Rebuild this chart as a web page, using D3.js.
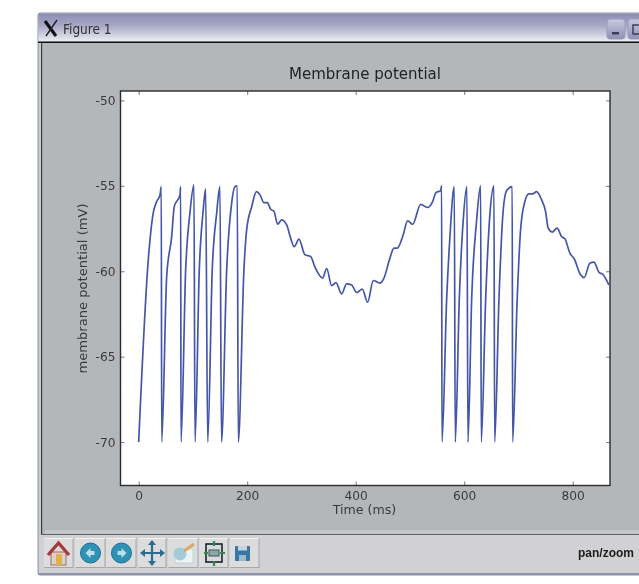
<!DOCTYPE html>
<html>
<head>
<meta charset="utf-8">
<script src="https://cdn.jsdelivr.net/npm/d3@7"></script>
<style>
    html, body { margin: 0; padding: 0; background: #fff; overflow: hidden; }
    svg { display: block; filter: blur(0.6px); font-family: "DejaVu Sans", sans-serif; }
</style>
</head>
<body>
<svg id="fig" width="639" height="584"></svg>
<script>
const chartTitle = 'Membrane potential';
const xAxisLabel = 'Time (ms)';
const yAxisLabel = 'membrane potential (mV)';
const windowTitle = 'Figure 1';
const statusText = 'pan/zoom';

const xTicks = [0, 200, 400, 600, 800];
const yTicks = [-50, -55, -60, -65, -70];

// one row per spike or slow stretch
const timeMs = [
    0, 17.7, 26.9, 33.2, 39.3, 41.7, 42.4,
    51.6, 60.8, 65.6, 76.1, 77.4, 78,
    86.6, 94.5, 101.9, 103.8,
    111.7, 119, 123.5, 127.2,
    135.6, 143.8, 149.8, 152.6,
    162.2, 171.4, 177.5, 181.7, 183.6,
    194, 199, 208.3, 217.1, 223.6, 230.9, 237, 243.3, 249.3, 256.2, 263.6, 272.8,
    280.1, 286.8, 295.4, 306.5, 317, 324.9, 339.1, 346.5, 355.7, 363.6, 374.1,
    383.3, 392.6, 401.8, 412.1, 422, 432.4, 444.7, 452.1, 463.1, 470.5, 476.6,
    486.6, 495.8, 505, 519.7, 531.9, 541.8, 547.9, 556.6, 558.4, 559,
    567.6, 573.7, 581.7, 583.5,
    590.9, 598.2, 605, 606.9,
    613.7, 622.9, 630.3, 631.4,
    639.5, 647.5, 654.8, 656.1,
    664, 671.9, 678.2, 688.5, 689.2,
    697.6, 703.9, 711.8, 719.2, 726, 733.4, 742.6, 750, 754.8, 762.1, 771.3,
    779.5, 785.6, 794.8, 802.7, 814.5, 821.1, 831.6, 839, 848.8, 855, 866.6
];
const potentialMv = [
    -70, -59.33, -56.58, -55.92, -55.53, -55.05, -70,
    -60.31, -57.97, -56.22, -55.53, -55.05, -70,
    -59.92, -56.58, -54.95, -70,
    -59.92, -56.41, -55.18, -70,
    -59.92, -56.58, -55.05, -70,
    -59.92, -56, -55.05, -55, -70,
    -59.92, -57.58, -56.22, -55.34, -55.53, -55.98, -55.98, -56.37, -56.49, -57.25, -56.99, -57.29,
    -58.06, -58.56, -58.12, -59.04, -59.14, -59.76, -60.4, -59.84, -60.84, -60.66, -61.32,
    -60.74, -60.8, -61.25, -61.05, -61.81, -60.54, -60.7, -60.4, -59.23, -58.65, -58.65,
    -57.97, -57.05, -57.25, -56.08, -56.27, -55.92, -55.4, -55.28, -54.99, -70,
    -61.67, -57.97, -55.05, -70,
    -61.67, -57, -55.05, -70,
    -61.67, -57, -54.99, -70,
    -61.67, -56.6, -55, -70,
    -61.67, -56.41, -55.28, -55.05, -70,
    -61.67, -57.58, -55.92, -55.47, -55.47, -55.34, -55.82, -56.51, -57.48, -57.71, -57.48,
    -57.97, -58.1, -58.94, -59.27, -60.21, -60.37, -59.53, -59.47, -60.08, -60.17, -60.8
];

const svg = d3.select('#fig');
const defs = svg.append('defs');

// window frame
let titleGrad = defs.append('linearGradient').attr('id', 'titleGrad')
    .attr('x1', 0).attr('y1', 0).attr('x2', 0).attr('y2', 1);
titleGrad.append('stop').attr('offset', '0').attr('stop-color', '#8c8db4');
titleGrad.append('stop').attr('offset', '0.45').attr('stop-color', '#a9aac6');
titleGrad.append('stop').attr('offset', '1').attr('stop-color', '#eeeef4');

let btnGrad = defs.append('linearGradient').attr('id', 'btnGrad')
    .attr('x1', 0).attr('y1', 0).attr('x2', 0).attr('y2', 1);
btnGrad.append('stop').attr('offset', '0').attr('stop-color', '#c9c9dc');
btnGrad.append('stop').attr('offset', '1').attr('stop-color', '#8f90b8');

svg.append('rect').attr('x', 38).attr('y', 13).attr('width', 610).attr('height', 562)
    .attr('rx', 2).attr('fill', '#c6c8cb').attr('stroke', '#8f92a8').attr('stroke-width', 1);
svg.append('rect').attr('x', 38.5).attr('y', 13.5).attr('width', 610).attr('height', 28)
    .attr('fill', 'url(#titleGrad)');
svg.append('rect').attr('x', 38).attr('y', 41.5).attr('width', 601).attr('height', 1.5).attr('fill', '#111');

// figure area
svg.append('rect').attr('x', 41).attr('y', 43).attr('width', 598).attr('height', 491).attr('fill', '#b4b7b9');
svg.append('rect').attr('x', 41).attr('y', 43).attr('width', 1.2).attr('height', 491).attr('fill', '#3c3f48');
svg.append('rect').attr('x', 45).attr('y', 530).attr('width', 594).attr('height', 4).attr('fill', '#c4c6c8');
svg.append('rect').attr('x', 41).attr('y', 534).attr('width', 598).attr('height', 1).attr('fill', '#5d6068');
svg.append('rect').attr('x', 39).attr('y', 535).attr('width', 600).attr('height', 38).attr('fill', '#d1d1d4');
svg.append('rect').attr('x', 38).attr('y', 573).attr('width', 601).attr('height', 2).attr('fill', '#8d91ab');

// window title
let xIcon = svg.append('g').attr('fill', 'none').attr('stroke-linecap', 'butt');
xIcon.append('path').attr('d', 'M45 21 L56 36').attr('stroke', '#111').attr('stroke-width', 3);
xIcon.append('path').attr('d', 'M57 20 L46 36').attr('stroke', '#222').attr('stroke-width', 1.4);
svg.append('text').attr('x', 63).attr('y', 34)
    .style('font-family', '"DejaVu Sans Condensed", "DejaVu Sans", sans-serif')
    .style('font-size', '13.5px').attr('fill', '#333').text(windowTitle);

// minimise and maximise buttons
svg.append('rect').attr('x', 607).attr('y', 19).attr('width', 18).attr('height', 20).attr('rx', 3)
    .attr('fill', 'url(#btnGrad)').attr('stroke', '#9a9bbd');
svg.append('rect').attr('x', 612).attr('y', 32).attr('width', 7).attr('height', 2.5).attr('fill', '#3d3e55');
svg.append('rect').attr('x', 628).attr('y', 19).attr('width', 18).attr('height', 20).attr('rx', 3)
    .attr('fill', 'url(#btnGrad)').attr('stroke', '#9a9bbd');
svg.append('rect').attr('x', 633).attr('y', 25).attr('width', 9).attr('height', 9)
    .attr('fill', 'none').attr('stroke', '#3d3e55').attr('stroke-width', 1.5);

// plot
const plotBox = { left: 120.5, right: 610, top: 91, bottom: 485.5 };

const xScale = d3.scaleLinear().domain([-33.5, 868.7]).range([plotBox.left, plotBox.right]);
const yScale = d3.scaleLinear().domain([-72.54, -49.45]).range([plotBox.bottom, plotBox.top]);

svg.append('rect').attr('x', plotBox.left).attr('y', plotBox.top)
    .attr('width', plotBox.right - plotBox.left).attr('height', plotBox.bottom - plotBox.top)
    .attr('fill', '#fff');

defs.append('clipPath').attr('id', 'plotClip').append('rect')
    .attr('x', plotBox.left).attr('y', plotBox.top)
    .attr('width', plotBox.right - plotBox.left).attr('height', plotBox.bottom - plotBox.top);

let potentialLine = d3.line()
    .x(function(d, i) { return xScale(timeMs[i]); })
    .y(function(d) { return yScale(d); })
    .curve(d3.curveMonotoneX);

svg.append('path')
    .datum(potentialMv)
    .attr('clip-path', 'url(#plotClip)')
    .attr('fill', 'none')
    .attr('stroke', '#4556a8')
    .attr('stroke-width', 1.7)
    .attr('d', potentialLine);

// matplotlib style inward ticks on all four sides
function styleAxis(g) {
    g.select('.domain').remove();
    g.selectAll('.tick line').attr('stroke', '#555').attr('stroke-width', 0.8);
    g.selectAll('.tick text')
        .attr('fill', '#3a3a3a')
        .style('font-family', '"DejaVu Sans", sans-serif')
        .style('font-size', '12.2px');
}

svg.append('g').attr('transform', 'translate(0,' + plotBox.bottom + ')')
    .call(d3.axisBottom(xScale).tickValues(xTicks).tickSizeInner(-4).tickSizeOuter(0).tickPadding(6).tickFormat(d3.format('d')))
    .call(styleAxis);
svg.append('g').attr('transform', 'translate(0,' + plotBox.top + ')')
    .call(d3.axisTop(xScale).tickValues(xTicks).tickSizeInner(-4).tickSizeOuter(0).tickFormat(''))
    .call(styleAxis);
svg.append('g').attr('transform', 'translate(' + plotBox.left + ',0)')
    .call(d3.axisLeft(yScale).tickValues(yTicks).tickSizeInner(-4).tickSizeOuter(0).tickPadding(5).tickFormat(function(d) { return String(d); }))
    .call(styleAxis);
svg.append('g').attr('transform', 'translate(' + plotBox.right + ',0)')
    .call(d3.axisRight(yScale).tickValues(yTicks).tickSizeInner(-4).tickSizeOuter(0).tickFormat(''))
    .call(styleAxis);

svg.append('rect').attr('x', plotBox.left).attr('y', plotBox.top)
    .attr('width', plotBox.right - plotBox.left).attr('height', plotBox.bottom - plotBox.top)
    .attr('fill', 'none').attr('stroke', '#2b2b2b').attr('stroke-width', 1.4);

svg.append('text').attr('x', 365).attr('y', 79).attr('text-anchor', 'middle')
    .style('font-size', '15px').attr('fill', '#222').text(chartTitle);
svg.append('text').attr('x', 364.5).attr('y', 514).attr('text-anchor', 'middle')
    .style('font-size', '12.6px').attr('fill', '#3a3a3a').text(xAxisLabel);
svg.append('text').attr('transform', 'translate(87,288.5) rotate(-90)').attr('text-anchor', 'middle')
    .style('font-size', '13.1px').attr('fill', '#3a3a3a').text(yAxisLabel);

// toolbar
const toolButtons = [[45, 28], [76, 29], [107, 29], [139, 27], [169, 29], [200, 28], [231, 28]];
toolButtons.forEach(function(b) {
    svg.append('rect').attr('x', b[0]).attr('y', 538.5).attr('width', b[1]).attr('height', 29)
        .attr('fill', '#dcdcdd').attr('stroke', '#a5a6a9').attr('stroke-width', 1);
    svg.append('path').attr('d', 'M' + b[0] + ' 567 V538.5 H' + (b[0] + b[1]))
        .attr('fill', 'none').attr('stroke', '#f2f2f2').attr('stroke-width', 1.2);
});

// home
svg.append('rect').attr('x', 51).attr('y', 552).attr('width', 15).attr('height', 13).attr('fill', '#d9d3cd').attr('stroke', '#a06a60');
svg.append('rect').attr('x', 56).attr('y', 554).attr('width', 6).attr('height', 11).attr('fill', '#e5b04a');
svg.append('path').attr('d', 'M48 555 L58.5 543 L69 555').attr('fill', 'none').attr('stroke', '#a83a3f').attr('stroke-width', 3.4);

// back and forward
[[90.5, -1], [121.5, 1]].forEach(function(a) {
    svg.append('circle').attr('cx', a[0]).attr('cy', 553).attr('r', 10)
        .attr('fill', '#2f92b5').attr('stroke', '#1f6f92').attr('stroke-width', 1);
    svg.append('path')
        .attr('d', 'M' + (a[0] + a[1] * 5) + ' 553 L' + a[0] + ' 548 V551 H' + (a[0] - a[1] * 4) + ' V555 H' + a[0] + ' V558 Z')
        .attr('fill', '#b9dfe9');
});

// pan
svg.append('path').attr('d', 'M152 541 V565 M141 553 H164').attr('stroke', '#2c6c8e').attr('stroke-width', 2.2);
svg.append('path').attr('d', 'M152 540 L148 545 H156 Z M152 566 L148 561 H156 Z M140 553 L145 549 V557 Z M165 553 L160 549 V557 Z').attr('fill', '#2c6c8e');

// zoom rect
svg.append('rect').attr('x', 175).attr('y', 549).attr('width', 18).attr('height', 14).attr('fill', '#eef3f3').attr('stroke', '#b9d5da');
svg.append('circle').attr('cx', 180).attr('cy', 554).attr('r', 6.5).attr('fill', '#a6cbd8');
svg.append('path').attr('d', 'M184 551 L194 544').attr('stroke', '#e0a668').attr('stroke-width', 3);

// subplots
svg.append('rect').attr('x', 206).attr('y', 544).attr('width', 16).attr('height', 18).attr('fill', '#d7dbdd').attr('stroke', '#1d2430').attr('stroke-width', 1.6);
svg.append('rect').attr('x', 209).attr('y', 550).attr('width', 10).attr('height', 6).attr('fill', '#8fa5ae').attr('stroke', '#3b5a4a');
svg.append('path').attr('d', 'M214 541 V546 M214 561 V566 M204 553 H208 M220 553 H225').attr('stroke', '#2f8a4e').attr('stroke-width', 2.2);

// save
svg.append('rect').attr('x', 235).attr('y', 546).attr('width', 15).attr('height', 15).attr('rx', 1).attr('fill', '#3a76a6');
svg.append('rect').attr('x', 238).attr('y', 546).attr('width', 9).attr('height', 4.5).attr('fill', '#c4d5e0');
svg.append('rect').attr('x', 239).attr('y', 555).attr('width', 7).attr('height', 6).attr('fill', '#9dbbd0');

svg.append('text').attr('x', 578).attr('y', 557)
    .style('font-family', '"Liberation Sans", sans-serif').style('font-weight', 'bold')
    .style('font-size', '12px').attr('fill', '#1c1c1c').text(statusText);
</script>
</body>
</html>
